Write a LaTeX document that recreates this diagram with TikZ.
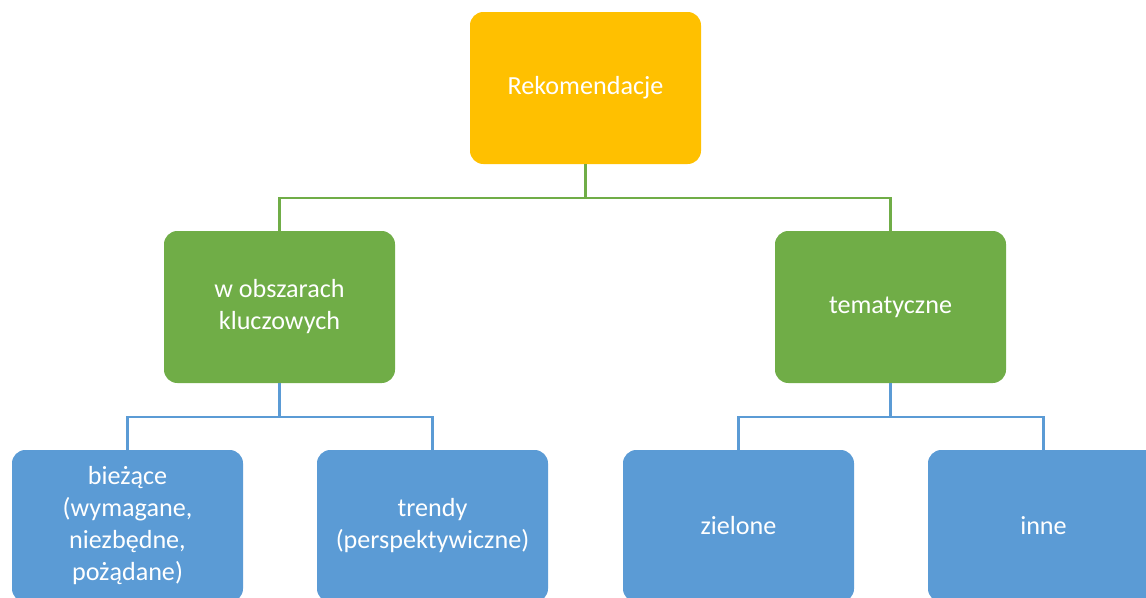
\documentclass[tikz,border=0pt]{standalone}
\usepackage{fontspec}
\setmainfont{Carlito}
\usetikzlibrary{positioning}
\definecolor{recorange}{HTML}{FFC000}
\definecolor{recgreen}{HTML}{70AD47}
\definecolor{recblue}{HTML}{5B9BD5}

\begin{document}
\begin{tikzpicture}[x=0.75pt, y=-0.75pt,
    box/.style = {rounded corners=10pt, minimum width=173.25pt, minimum height=114pt,
                  align=center, text=white, font=\fontsize{19.6}{24}\selectfont, inner sep=4pt},
    greenline/.style = {recgreen, line width=1.7pt},
    blueline/.style = {recblue, line width=1.7pt}]
    \useasboundingbox (0,0) rectangle (1146,597);
    \def\bus{34}

    \node[box, fill=recorange] (rek) at (585.5,88) {Rekomendacje};
    \node[box, fill=recgreen] (obs) at (279.5,307) {w obszarach\\kluczowych};
    \node[box, fill=recgreen] (tem) at (890.5,307) {tematyczne};

    \node[box, fill=recblue] (bie) at (127.5,526) {bieżące\\(wymagane,\\niezbędne,\\pożądane)};
    \node[box, fill=recblue] (tre) at (432.5,526) {trendy\\(perspektywiczne)};
    \node[box, fill=recblue] (zie) at (738.5,526) {zielone};
    \node[box, fill=recblue] (inn) at (1043.5,526) {inne};

    % connectors
    \draw[greenline] (rek.south) -- ++(0,\bus) -| (obs.north);
    \draw[greenline] (rek.south) -- ++(0,\bus) -| (tem.north);
    \draw[blueline] (obs.south) -- ++(0,\bus) -| (bie.north);
    \draw[blueline] (obs.south) -- ++(0,\bus) -| (tre.north);
    \draw[blueline] (tem.south) -- ++(0,\bus) -| (zie.north);
    \draw[blueline] (tem.south) -- ++(0,\bus) -| (inn.north);
\end{tikzpicture}
\end{document}
